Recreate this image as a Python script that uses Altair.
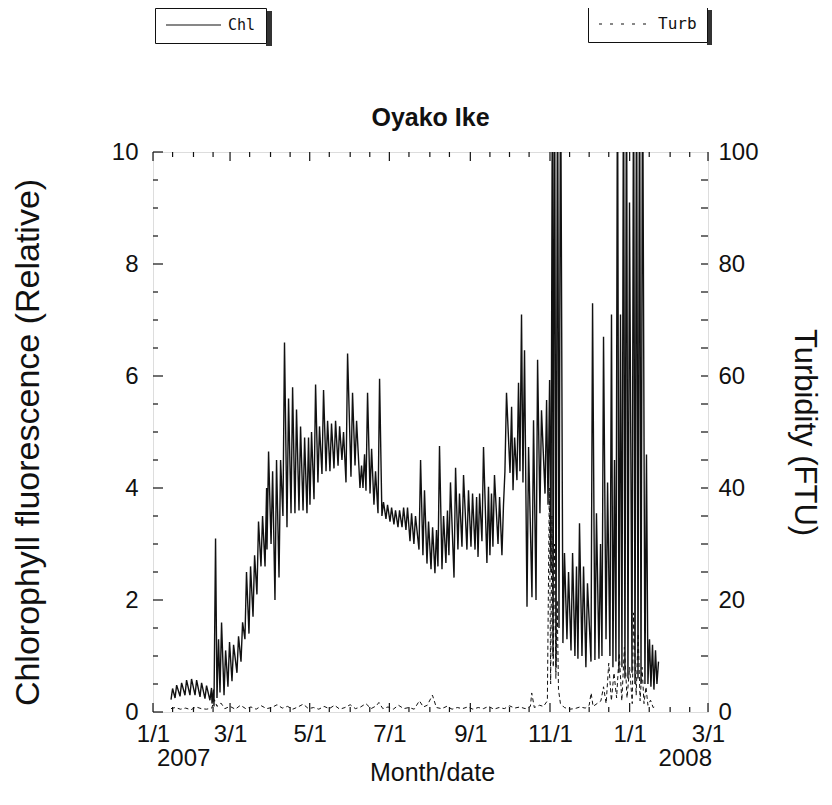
import altair as alt
import pandas as pd

START = pd.Timestamp("2007-01-01")

# ---- Chlorophyll fluorescence: daily-cycle envelope (days since 2007-01-01)
chl_day = [13.8, 16.9, 20.7, 24.5, 28.3, 32.2, 36.0, 39.8, 43.6, 45.2, 46.7, 49.0, 51.3, 54.4, 57.4,
           60.5, 64.3, 67.4, 70.4, 73.5, 76.6, 79.6, 82.7, 85.8, 87.3, 90.4, 93.4, 96.5, 99.5, 102.6,
           105.7, 108.7, 111.8, 114.9, 117.9, 120.2, 123.3, 126.3, 129.4, 132.5, 135.5, 138.6, 141.7,
           144.7, 147.8, 151.6, 154.7, 158.5, 160.8, 163.1, 166.2, 169.2, 172.3, 175.3, 178.4, 181.5,
           184.5, 187.6, 190.7, 193.7, 196.8, 199.8, 203.7, 206.7, 209.8, 212.9, 215.9, 218.2, 221.3,
           224.3, 226.6, 230.5, 233.5, 236.6, 240.4, 243.5, 246.6, 248.9, 251.9, 255.7, 258.0, 260.3,
           264.2, 267.2, 269.5, 273.4, 275.7, 278.7, 281.0, 283.3, 286.4, 290.2, 293.3, 296.3, 300.2,
           302.5, 304.7, 306.3, 308.6, 310.9, 313.9, 317.0, 320.1, 323.1, 325.4, 328.5, 331.5, 335.4,
           338.4, 341.5, 343.8, 346.9, 349.9, 352.2, 354.5, 356.8, 359.1, 361.4, 363.7, 366.8, 369.1,
           371.4, 373.7, 376.7, 379.0, 381.3, 383.6, 385.9]
chl_hi = [0.42, 0.48, 0.52, 0.57, 0.59, 0.57, 0.52, 0.47, 0.43, 0.40, 3.1, 1.3, 1.6, 1.1, 1.25,
          1.2, 1.35, 1.6, 2.5, 2.6, 2.8, 3.4, 3.5, 4.0, 4.65, 4.3, 4.5, 4.5, 6.6, 5.6,
          5.8, 5.4, 5.1, 4.9, 4.9, 5.0, 5.85, 5.1, 5.75, 5.2, 5.15, 5.2, 5.1,
          5.0, 6.4, 5.7, 5.2, 4.4, 4.6, 5.7, 4.7, 4.3, 5.95, 3.75, 3.7, 3.65,
          3.6, 3.6, 3.65, 3.65, 3.55, 3.5, 4.5, 3.96, 3.4, 3.3, 3.25, 4.75, 3.5,
          3.6, 4.1, 4.36, 3.9, 4.23, 3.96, 3.9, 3.84, 3.9, 4.73, 4.02, 3.9, 4.23,
          3.84, 3.7, 5.7, 5.45, 4.9, 5.88, 7.1, 6.46, 4.73, 5.21, 6.29, 5.39, 5.57,
          5.93, 12.0, 12.0, 12.0, 12.0, 2.84, 2.5, 2.84, 2.6, 3.37, 2.6, 2.3, 7.3,
          3.55, 3.0, 6.7, 4.1, 7.1, 4.5, 12.0, 7.1, 12.0, 12.0, 9.1, 12.0, 12.0,
          12.0, 12.0, 4.6, 1.3, 1.2, 1.1, 0.9]
chl_lo = [0.22, 0.25, 0.28, 0.30, 0.30, 0.30, 0.27, 0.24, 0.21, 0.15, 0.10, 0.25, 0.35, 0.30, 0.45,
          0.55, 0.70, 0.90, 1.3, 1.4, 1.7, 2.1, 2.6, 2.6, 2.9, 3.0, 2.0, 2.4, 3.5, 3.3,
          3.55, 3.55, 3.6, 3.6, 3.55, 3.7, 3.8, 4.1, 4.25, 4.3, 4.3, 4.35, 4.4,
          4.5, 4.1, 4.2, 4.4, 4.0, 4.0, 3.95, 3.9, 3.7, 3.55, 3.5, 3.45, 3.4,
          3.35, 3.3, 3.3, 3.25, 3.05, 3.0, 2.9, 2.8, 2.65, 2.55, 2.48, 2.6, 2.55,
          2.66, 2.8, 2.4, 2.9, 2.95, 2.9, 2.95, 2.9, 2.77, 3.05, 2.66, 2.8, 2.95,
          3.0, 2.8, 4.3, 4.27, 3.96, 4.14, 4.3, 4.1, 1.88, 2.05, 2.0, 3.55, 3.9,
          3.7, 2.5, 1.0, 0.8, 1.5, 1.23, 1.3, 1.1, 1.0, 0.95, 1.0, 0.8, 0.9,
          0.93, 0.95, 1.0, 1.3, 1.0, 0.8, 0.9, 0.7, 0.8, 0.6, 0.6, 0.7, 0.5,
          0.6, 0.5, 0.5, 0.5, 0.45, 0.4, 0.5]

# ---- Turbidity (FTU)
turb_day = [13.8, 17, 21, 25, 29, 33, 37, 41, 45, 47, 49, 52, 55, 59, 63, 67, 71, 75, 79, 83, 87, 91,
            95, 99, 103, 107, 111, 115, 119, 123, 127, 131, 135, 139, 143, 147, 151, 155, 159, 163,
            167, 171, 173, 176, 180, 184, 188, 192, 196, 200, 204, 207, 210, 214, 217, 221, 225, 229,
            233, 237, 241, 245, 249, 253, 257, 261, 265, 269, 273, 277, 281, 285, 289, 290, 292, 296,
            299, 302, 303.5, 304.5, 305.5, 306.5, 307.5, 308.5, 309.5, 310.5, 312, 315, 319, 323, 327,
            331, 334, 335.5, 337, 340, 343, 345, 347, 349, 351, 353, 355, 357, 359, 361, 363, 365, 367,
            368, 370, 371.5, 373, 374.5, 376, 377.5, 379, 381, 383, 385]
turb_val = [0.6, 0.8, 0.5, 0.7, 0.4, 0.9, 0.6, 0.5, 0.7, 2.2, 1.0, 1.6, 0.6, 1.0, 0.5, 1.2, 0.6, 0.9,
            0.5, 1.1, 0.6, 0.8, 1.3, 0.7, 1.0, 0.5, 0.9, 1.4, 0.6, 0.8, 0.5, 1.0, 0.6, 1.2, 0.5, 0.8,
            1.3, 0.6, 0.9, 1.5, 0.6, 1.1, 1.7, 0.6, 0.9, 0.5, 1.2, 0.6, 0.8, 0.5, 2.0, 0.9, 1.2, 3.0,
            0.8, 0.6, 1.0, 0.5, 0.8, 0.6, 0.9, 0.5, 0.8, 0.6, 1.0, 0.5, 0.8, 0.6, 1.1, 0.7, 0.9, 0.6,
            1.0, 3.4, 0.8, 1.2, 1.0, 2.0, 40, 5, 35, 8, 30, 6, 20, 4, 1.5, 0.8, 0.5, 0.6, 0.9,
            0.7, 1.2, 3.4, 1.0, 1.5, 2.0, 4.5, 1.5, 8.7, 2.0, 7.0, 2.5, 10.5, 2.0, 11.6, 2.5, 8.0, 1.5,
            17.7, 3.0, 14.0, 2.0, 8.0, 1.5, 4.5, 1.2, 2.1, 0.8, 1.0]

# ---- axis tick values
major_dates = ["2007-01-01", "2007-03-01", "2007-05-01", "2007-07-01", "2007-09-01", "2007-11-01",
               "2008-01-01", "2008-03-01"]
minor_dates = ["2007-01-16", "2007-02-01", "2007-02-16", "2007-03-16", "2007-04-01", "2007-04-16",
               "2007-05-16", "2007-06-01", "2007-06-16", "2007-07-16", "2007-08-01", "2007-08-16",
               "2007-09-16", "2007-10-01", "2007-10-16", "2007-11-16", "2007-12-01", "2007-12-16",
               "2008-01-16", "2008-02-01", "2008-02-16"]
chl_major_ticks = [0, 2, 4, 6, 8, 10]
chl_minor_ticks = [0.5, 1, 1.5, 2.5, 3, 3.5, 4.5, 5, 5.5, 6.5, 7, 7.5, 8.5, 9, 9.5]
turb_ticks = [5, 10, 15, 20, 25, 30, 35, 40, 45, 50, 55, 60, 65, 70, 75, 80, 85, 90, 95]
turb_labels = [0, 20, 40, 60, 80, 100]

W, H = 555, 560
FONT = "Liberation Sans"
INK = "#111111"


def iso(d):
    return (START + pd.Timedelta(days=d)).strftime("%Y-%m-%dT%H:%M:%SZ")


def dt(y, m, d):
    return alt.DateTime(year=y, month=m, date=d, utc=True)


def xscale():
    return alt.Scale(type="utc", domain=[dt(2007, 1, 1), dt(2008, 3, 1)])


def yL():
    return alt.Scale(domain=[0, 10], nice=False, zero=False)


def yR():
    return alt.Scale(domain=[0, 100], nice=False, zero=False)


chl_rows = []
for d, lo, hi in zip(chl_day, chl_lo, chl_hi):
    chl_rows.append({"t": iso(d), "chl": lo, "series": "Chl"})
    chl_rows.append({"t": iso(d + 1.2), "chl": hi, "series": "Chl"})
chl_df = pd.DataFrame(chl_rows)

turb_df = pd.DataFrame({"t": [iso(d) for d in turb_day], "turb": turb_val, "series": "Turb"})

x_axis = alt.Axis(
    orient="bottom",
    values=[dt(int(s[:4]), int(s[5:7]), int(s[8:])) for s in major_dates],
    labelExpr="utcFormat(datum.value, '%-m/%-d')",
    ticks=False, domain=False, grid=False, labelFlush=False, labelOverlap=False,
    labelFont=FONT, labelFontSize=24, labelPadding=10, labelColor=INK,
    titleFont=FONT, titleFontSize=25, titleFontWeight="normal", titleColor=INK,
    titleX=279, titleY=60, titleBaseline="middle",
)
yl_axis = alt.Axis(
    orient="left", values=chl_major_ticks, ticks=False, domain=False, grid=False,
    labelFont=FONT, labelFontSize=24, labelPadding=15, labelColor=INK,
    titleFont=FONT, titleFontSize=34, titleFontWeight="normal", titleColor=INK,
    titleX=-125, titleY=290, titleBaseline="middle", titleAngle=270,
)
yr_axis = alt.Axis(
    orient="right", values=turb_labels, ticks=False, domain=False, grid=False,
    labelFont=FONT, labelFontSize=24, labelPadding=10, labelColor=INK,
    titleFont=FONT, titleFontSize=31, titleFontWeight="normal", titleColor=INK,
    titleX=95, titleY=280, titleBaseline="middle", titleAngle=90,
)

chl_line = alt.Chart(chl_df).mark_line(color=INK, strokeWidth=1.4, clip=True).encode(
    x=alt.X("t:T", scale=xscale(), axis=x_axis, title="Month/date"),
    y=alt.Y("chl:Q", scale=yL(), axis=yl_axis, title="Chlorophyll fluorescence (Relative)"),
    color=alt.Color("series:N", scale=alt.Scale(range=[INK]), legend=alt.Legend(
        title=None, orient="none", legendX=2, legendY=-144, symbolType="stroke",
        symbolSize=3025, symbolStrokeWidth=1.2, symbolStrokeColor=INK,
        labelFont="DejaVu Sans Mono", labelFontSize=15, labelOffset=6, labelColor=INK,
        padding=10, strokeColor=INK, fillColor="white", clipHeight=14)),
)

turb_line = alt.Chart(turb_df).mark_line(color=INK, strokeWidth=1, strokeDash=[4, 3], clip=True).encode(
    x=alt.X("t:T", scale=xscale(), axis=None),
    y=alt.Y("turb:Q", scale=yR(), axis=yr_axis, title="Turbidity (FTU)"),
    color=alt.Color("series:N", scale=alt.Scale(range=[INK]), legend=alt.Legend(
        title=None, orient="none", legendX=435, legendY=-145, symbolType="stroke",
        symbolSize=2916, symbolStrokeWidth=1.2, symbolStrokeColor=INK, symbolDash=[3, 8],
        labelFont="DejaVu Sans Mono", labelFontSize=16, labelOffset=4, labelColor=INK,
        padding=10, strokeColor=INK, fillColor="white", clipHeight=14)),
)


def xticks(dates, y0, y1):
    return alt.Chart(pd.DataFrame({"t": [s + "T00:00:00Z" for s in dates]})).mark_rule(
        color=INK, strokeWidth=1.2).encode(
        x=alt.X("t:T", scale=xscale(), axis=None), y=alt.value(y0), y2=alt.value(y1))


def yticks(vals, scale, x0, x1):
    return alt.Chart(pd.DataFrame({"v": vals})).mark_rule(color=INK, strokeWidth=1.2).encode(
        y=alt.Y("v:Q", scale=scale, axis=None), x=alt.value(x0), x2=alt.value(x1))


one = pd.DataFrame({"a": [0]})
year07 = alt.Chart(pd.DataFrame({"t": ["2007-01-01T00:00:00Z"], "lab": ["2007"]})).mark_text(
    align="left", baseline="top", dx=4, font=FONT, fontSize=24, color=INK).encode(
    x=alt.X("t:T", scale=xscale(), axis=None), y=alt.value(H + 35), text="lab:N")
year08 = alt.Chart(pd.DataFrame({"t": ["2008-03-01T00:00:00Z"], "lab": ["2008"]})).mark_text(
    align="right", baseline="top", dx=4, font=FONT, fontSize=24, color=INK).encode(
    x=alt.X("t:T", scale=xscale(), axis=None), y=alt.value(H + 35), text="lab:N")

shadow_chl = alt.Chart(one).mark_rect(color="#333333").encode(
    x=alt.value(113), x2=alt.value(119), y=alt.value(-141), y2=alt.value(-106))
shadow_turb = alt.Chart(one).mark_rect(color="#333333").encode(
    x=alt.value(554), x2=alt.value(559), y=alt.value(-142), y2=alt.value(-107))

chart = alt.layer(
    shadow_chl, shadow_turb,
    chl_line,
    turb_line,
    yticks(chl_major_ticks, yL(), 0, 10), yticks(chl_minor_ticks, yL(), 0, 5),
    yticks(turb_ticks, yR(), W, W - 7),
    xticks(major_dates, 0, 9), xticks(minor_dates, 0, 5),
    xticks(major_dates, H, H - 9), xticks(minor_dates, H, H - 5),
    year07, year08,
).resolve_scale(x="independent", y="independent", color="independent").properties(
    width=W, height=H,
    title=alt.TitleParams("Oyako Ike", font=FONT, fontSize=25, fontWeight="bold", offset=0, dy=144,
                          baseline="alphabetic", anchor="middle", color=INK),
    padding={"left": 145, "top": 144, "right": 116, "bottom": 80},
    autosize=alt.AutoSizeParams(type="none"),
).configure_view(stroke=INK, strokeWidth=1.5).configure(background="white")

chart.save("out.html", embed_options={"renderer": "svg", "actions": False})
